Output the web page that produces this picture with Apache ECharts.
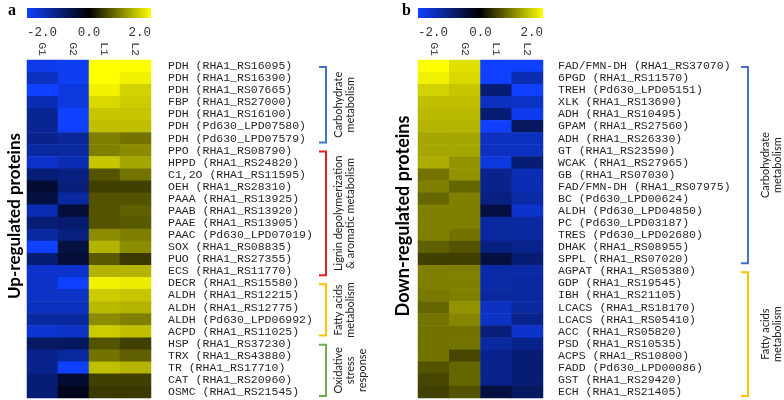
<!DOCTYPE html>
<html><head><meta charset="utf-8">
<script src="https://cdn.jsdelivr.net/npm/echarts@6/dist/echarts.min.js"></script>
<style>html,body{margin:0;padding:0;background:#fff}#c{width:784px;height:400px}</style>
</head><body><div id="c"></div>
<script>
const columns = ['G1', 'G2', 'L1', 'L2'];
const colorbarTicks = ['-2.0', '0.0', '2.0'];

const upLabels = [
  'PDH (RHA1_RS16095)', 'PDH (RHA1_RS16390)', 'PDH (RHA1_RS07665)', 'FBP (RHA1_RS27000)',
  'PDH (RHA1_RS16100)', 'PDH (Pd630_LPD07580)', 'PDH (Pd630_LPD07579)', 'PPO (RHA1_RS08790)',
  'HPPD (RHA1_RS24820)', 'C1,2O (RHA1_RS11595)', 'OEH (RHA1_RS28310)', 'PAAA (RHA1_RS13925)',
  'PAAB (RHA1_RS13920)', 'PAAE (RHA1_RS13905)', 'PAAC (Pd630_LPD07019)', 'SOX (RHA1_RS08835)',
  'PUO (RHA1_RS27355)', 'ECS (RHA1_RS11770)', 'DECR (RHA1_RS15580)', 'ALDH (RHA1_RS12215)',
  'ALDH (RHA1_RS12775)', 'ALDH (Pd630_LPD06992)', 'ACPD (RHA1_RS11025)', 'HSP (RHA1_RS37230)',
  'TRX (RHA1_RS43880)', 'TR (RHA1_RS17710)', 'CAT (RHA1_RS20960)', 'OSMC (RHA1_RS21545)'
];
const upG1 = [-1.85,-1.5,-2.0,-1.4,-1.15,-1.15,-1.1,-1.25,-1.6,-0.9,-0.4,-0.5,-1.4,-0.9,
              -1.25,-2.0,-0.9,-1.6,-1.55,-1.55,-1.5,-1.25,-1.65,-0.75,-1.1,-1.1,-0.9,-0.9];
const upG2 = [-1.9,-1.9,-1.75,-1.75,-2.0,-2.0,-1.2,-1.25,-1.4,-1.0,-0.95,-1.25,-0.45,-0.85,
              -1.0,-0.5,-0.45,-1.6,-2.0,-1.55,-1.5,-1.25,-1.55,-0.75,-1.25,-2.0,-0.4,-0.2];
const upL1 = [2.0,2.0,1.9,1.7,1.55,1.5,1.0,1.0,1.55,0.65,0.5,0.65,0.65,0.65,
              1.1,1.4,0.7,1.4,1.9,1.6,1.45,1.1,1.6,0.65,0.9,1.5,0.5,0.45];
const upL2 = [2.0,1.9,1.65,1.6,1.55,1.5,0.9,1.1,1.3,0.9,0.5,0.65,0.75,0.7,
              1.0,1.1,0.45,1.4,1.85,1.55,1.4,1.0,1.5,0.5,0.75,1.4,0.5,0.45];

const downLabels = [
  'FAD/FMN-DH (RHA1_RS37070)', '6PGD (RHA1_RS11570)', 'TREH (Pd630_LPD05151)', 'XLK (RHA1_RS13690)',
  'ADH (RHA1_RS10495)', 'GPAM (RHA1_RS27560)', 'ADH (RHA1_RS26330)', 'GT (RHA1_RS23590)',
  'WCAK (RHA1_RS27965)', 'GB (RHA1_RS07030)', 'FAD/FMN-DH (RHA1_RS07975)', 'BC (Pd630_LPD00624)',
  'ALDH (Pd630_LPD04850)', 'PC (Pd630_LPD03187)', 'TRES (Pd630_LPD02680)', 'DHAK (RHA1_RS08955)',
  'SPPL (RHA1_RS07020)', 'AGPAT (RHA1_RS05380)', 'GDP (RHA1_RS19545)', 'IBH (RHA1_RS21105)',
  'LCACS (RHA1_RS18170)', 'LCACS (RHA1_RS05410)', 'ACC (RHA1_RS05820)', 'PSD (RHA1_RS10535)',
  'ACPS (RHA1_RS10800)', 'FADD (Pd630_LPD00086)', 'GST (RHA1_RS29420)', 'ECH (RHA1_RS21405)'
];
const downG1 = [2.0,1.9,1.65,1.5,1.45,1.4,1.3,1.3,1.35,0.9,1.0,0.8,1.0,1.0,
                1.0,0.75,0.5,1.0,1.0,0.95,0.8,0.9,0.9,0.9,0.9,0.65,0.55,0.5];
const downG2 = [1.75,1.7,1.55,1.5,1.45,1.4,1.3,1.3,1.15,1.15,0.8,1.0,1.0,1.0,
                0.9,0.65,0.5,1.0,1.0,1.0,1.15,1.05,0.9,0.9,0.55,0.8,0.8,0.65];
const downL1 = [-2.0,-2.0,-0.9,-1.5,-0.9,-2.0,-1.5,-1.5,-1.75,-1.1,-1.1,-1.0,-0.5,-1.25,
                -1.25,-1.0,-0.5,-1.3,-1.3,-1.25,-1.5,-1.55,-0.95,-1.25,-1.1,-1.1,-1.1,-0.5];
const downL2 = [-2.0,-1.4,-2.0,-1.55,-1.85,-0.75,-1.5,-1.5,-0.9,-1.4,-1.4,-1.3,-1.6,-1.25,
                -1.25,-1.1,-0.9,-1.3,-1.25,-1.25,-1.25,-1.1,-1.6,-1.1,-0.9,-0.9,-0.9,-0.75];

const upGroupNames = ['Carbohydrate\nmetabolism', 'Lignin depolymerization\n& aromatic metabolism',
                      'Fatty acids\nmetabolism', 'Oxidative\nstress\nresponse'];
const upGroupRows = [[0, 6], [7, 17], [18, 22], [23, 27]];
const downGroupNames = ['Carbohydrate\nmetabolism', 'Fatty acids\nmetabolism'];
const downGroupRows = [[0, 16], [17, 27]];

function cells(cols) {
  const out = [];
  cols.forEach((arr, c) => arr.forEach((v, r) => out.push([c, r, v])));
  return out;
}

const MONO = 'Liberation Mono';
const chart = echarts.init(document.getElementById('c'), null, {renderer: 'canvas'});

function xAx(gi) {
  return {
    type: 'category', data: columns, gridIndex: gi, position: 'top',
    axisLine: {show: false}, axisTick: {show: false}, splitLine: {show: false},
    axisLabel: {rotate: 90, margin: 4, interval: 0, fontFamily: MONO, fontSize: 11.5, color: '#333'}
  };
}
function yAx(gi, labels, margin) {
  return {
    type: 'category', data: labels, gridIndex: gi, inverse: true, position: 'right',
    axisLine: {show: false}, axisTick: {show: false}, splitLine: {show: false},
    axisLabel: {margin: margin, interval: 0, fontFamily: MONO, fontSize: 11.5, color: '#262626', align: 'left'}
  };
}

chart.setOption({
  animation: false,
  backgroundColor: '#ffffff',
  grid: [
    {left: 27, top: 60, width: 124, height: 338},
    {left: 418, top: 60, width: 125, height: 338}
  ],
  xAxis: [xAx(0), xAx(1)],
  yAxis: [yAx(0, upLabels, 17), yAx(1, downLabels, 15)],
  visualMap: {
    type: 'continuous', show: false, min: -2, max: 2, seriesIndex: [0, 1],
    inRange: {color: ['#1040ff', '#000000', '#ffff00']}
  },
  series: [
    {type: 'heatmap', xAxisIndex: 0, yAxisIndex: 0, data: cells([upG1, upG2, upL1, upL2])},
    {type: 'heatmap', xAxisIndex: 1, yAxisIndex: 1, data: cells([downG1, downG2, downL1, downL2])}
  ]
});

const grad = () => new echarts.graphic.LinearGradient(0, 0, 1, 0, [
  {offset: 0, color: '#1040ff'}, {offset: 0.5, color: '#000000'}, {offset: 1, color: '#ffff00'}
]);

const g = [];
function colorbar(x0, w) {
  g.push({type: 'rect', shape: {x: x0, y: 8, width: w, height: 10}, style: {fill: grad()}});
  const aligns = ['left', 'center', 'right'];
  const xs = [x0, x0 + w / 2, x0 + w];
  colorbarTicks.forEach((t, i) => g.push({
    type: 'text', x: xs[i], y: 33,
    style: {text: t, fontFamily: MONO, fontSize: 12.5, fill: '#333', align: aligns[i], verticalAlign: 'middle'}
  }));
}
colorbar(27, 124);
colorbar(418, 125);

g.push({type: 'text', x: 8, y: 11, style: {text: 'a', fontFamily: 'Liberation Serif', fontWeight: 'bold', fontSize: 16, fill: '#000', verticalAlign: 'middle'}});
g.push({type: 'text', x: 402, y: 11, style: {text: 'b', fontFamily: 'Liberation Serif', fontWeight: 'bold', fontSize: 16, fill: '#000', verticalAlign: 'middle'}});

g.push({type: 'text', x: 15, y: 216, rotation: Math.PI / 2,
  style: {text: 'Up-regulated proteins', fontFamily: 'Lato', fontWeight: 'bold', fontSize: 17, fill: '#000', align: 'center', verticalAlign: 'middle'}});
g.push({type: 'text', x: 403, y: 216, rotation: Math.PI / 2,
  style: {text: 'Down-regulated proteins', fontFamily: 'Lato', fontWeight: 'bold', fontSize: 18, fill: '#000', align: 'center', verticalAlign: 'middle'}});

const bracketColors = ['#4472c4', '#e3201b', '#ffc000', '#70ad47'];
function brackets(names, rows, gi, xLine, colors, textX) {
  rows.forEach((rr, i) => {
    const yTop = chart.convertToPixel({xAxisIndex: gi, yAxisIndex: gi}, [0, rr[0]])[1] + 1;
    const yBot = chart.convertToPixel({xAxisIndex: gi, yAxisIndex: gi}, [0, rr[1]])[1] + 4;
    g.push({type: 'polyline', shape: {points: [[xLine - 7, yTop], [xLine, yTop], [xLine, yBot], [xLine - 7, yBot]]},
      style: {stroke: colors[i], lineWidth: 2, fill: null}});
    const nLines = names[i].split('\n').length;
    g.push({type: 'text', x: textX + (nLines - 1) * 6, y: (yTop + yBot) / 2, rotation: Math.PI / 2,
      style: {text: names[i], fontFamily: 'Lato', fontSize: 11, lineHeight: 12, fill: '#222', align: 'center', verticalAlign: 'middle'}});
  });
}
brackets(upGroupNames, upGroupRows, 0, 326, bracketColors, 338);
brackets(downGroupNames, downGroupRows, 1, 748, [bracketColors[0], bracketColors[2]], 765);

chart.setOption({graphic: g});
</script></body></html>
